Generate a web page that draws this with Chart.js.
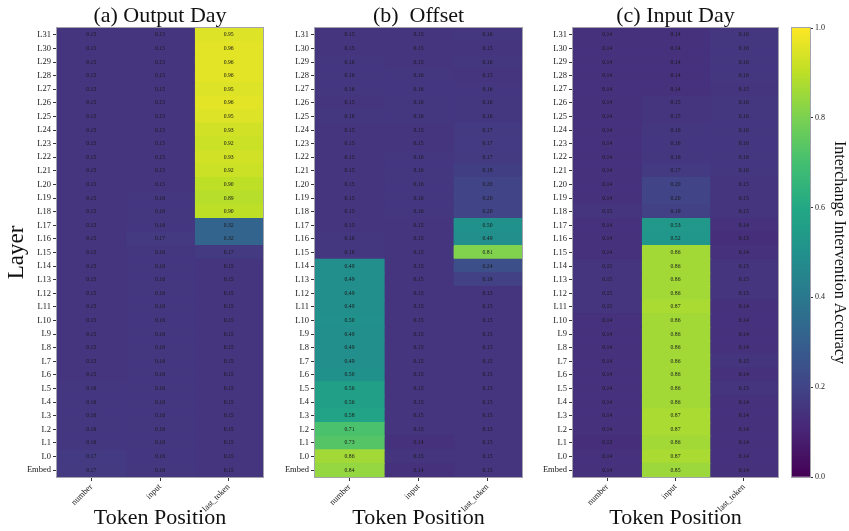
<!DOCTYPE html>
<html>
<head>
<meta charset="utf-8">
<script src="https://cdn.jsdelivr.net/npm/chart.js@4.4.0/dist/chart.umd.min.js"></script>
<style>
  html, body { margin: 0; padding: 0; background: #fff; }
  body { width: 849px; height: 531px; position: relative; overflow: hidden; }
  canvas { position: absolute; top: 0; }
</style>
</head>
<body>
<canvas id="panelA" width="270" height="531" style="left:0px"></canvas>
<canvas id="panelB" width="260" height="531" style="left:270px"></canvas>
<canvas id="panelC" width="255" height="531" style="left:530px"></canvas>
<canvas id="colorbar" width="64" height="531" style="left:785px"></canvas>
<script>
// rows, top to bottom
const layers = ['L31', 'L30', 'L29', 'L28', 'L27', 'L26', 'L25', 'L24', 'L23', 'L22',
  'L21', 'L20', 'L19', 'L18', 'L17', 'L16', 'L15', 'L14', 'L13', 'L12',
  'L11', 'L10', 'L9', 'L8', 'L7', 'L6', 'L5', 'L4', 'L3', 'L2',
  'L1', 'L0', 'Embed'];
const positions = ['number', 'input', 'last_token'];
const colorbarTicks = [0, 0.2, 0.4, 0.6, 0.8, 1.0];

// (a) Output Day
const outputDayNumber = [0.15, 0.15, 0.15, 0.15, 0.15, 0.15, 0.15, 0.15, 0.15, 0.15,
  0.15, 0.15, 0.15, 0.15, 0.15, 0.15, 0.15, 0.15, 0.15, 0.15,
  0.15, 0.15, 0.15, 0.15, 0.15, 0.15, 0.16, 0.16, 0.16, 0.16,
  0.16, 0.17, 0.17];
const outputDayInput = [0.15, 0.15, 0.15, 0.15, 0.15, 0.15, 0.15, 0.15, 0.15, 0.15,
  0.15, 0.15, 0.16, 0.16, 0.16, 0.17, 0.16, 0.16, 0.16, 0.16,
  0.16, 0.16, 0.16, 0.16, 0.16, 0.16, 0.16, 0.16, 0.16, 0.16,
  0.16, 0.16, 0.16];
const outputDayLast = [0.95, 0.96, 0.96, 0.96, 0.95, 0.96, 0.95, 0.93, 0.92, 0.93,
  0.92, 0.90, 0.89, 0.90, 0.32, 0.32, 0.17, 0.15, 0.15, 0.15,
  0.15, 0.15, 0.15, 0.15, 0.15, 0.15, 0.15, 0.15, 0.15, 0.15,
  0.15, 0.15, 0.15];

// (b) Offset
const offsetNumber = [0.15, 0.15, 0.16, 0.16, 0.16, 0.15, 0.16, 0.15, 0.15, 0.15,
  0.15, 0.15, 0.15, 0.15, 0.15, 0.16, 0.16, 0.49, 0.49, 0.49,
  0.49, 0.50, 0.49, 0.49, 0.49, 0.50, 0.56, 0.56, 0.58, 0.71,
  0.73, 0.86, 0.84];
const offsetInput = [0.15, 0.15, 0.15, 0.16, 0.16, 0.16, 0.16, 0.15, 0.15, 0.16,
  0.16, 0.16, 0.16, 0.16, 0.15, 0.15, 0.15, 0.15, 0.15, 0.15,
  0.15, 0.15, 0.15, 0.15, 0.15, 0.15, 0.15, 0.15, 0.15, 0.15,
  0.14, 0.15, 0.14];
const offsetLast = [0.16, 0.15, 0.16, 0.15, 0.16, 0.16, 0.16, 0.17, 0.17, 0.17,
  0.18, 0.20, 0.20, 0.20, 0.50, 0.49, 0.81, 0.24, 0.19, 0.15,
  0.15, 0.15, 0.15, 0.15, 0.15, 0.15, 0.15, 0.15, 0.15, 0.15,
  0.15, 0.15, 0.15];

// (c) Input Day
const inputDayNumber = [0.14, 0.14, 0.14, 0.14, 0.14, 0.14, 0.14, 0.14, 0.14, 0.14,
  0.14, 0.14, 0.14, 0.15, 0.14, 0.14, 0.14, 0.15, 0.15, 0.15,
  0.15, 0.14, 0.14, 0.14, 0.14, 0.14, 0.14, 0.14, 0.14, 0.14,
  0.13, 0.14, 0.14];
const inputDayInput = [0.14, 0.14, 0.14, 0.14, 0.14, 0.15, 0.15, 0.16, 0.16, 0.16,
  0.17, 0.20, 0.20, 0.19, 0.53, 0.52, 0.86, 0.86, 0.86, 0.86,
  0.87, 0.86, 0.86, 0.86, 0.86, 0.86, 0.86, 0.86, 0.87, 0.87,
  0.86, 0.87, 0.85];
const inputDayLast = [0.16, 0.16, 0.16, 0.16, 0.15, 0.16, 0.16, 0.16, 0.16, 0.16,
  0.16, 0.15, 0.15, 0.15, 0.14, 0.13, 0.14, 0.15, 0.15, 0.15,
  0.14, 0.14, 0.14, 0.14, 0.15, 0.14, 0.15, 0.14, 0.14, 0.14,
  0.14, 0.14, 0.14];

// viridis colormap, stops every 0.1
const viridisStops = ['#440154', '#482475', '#414487', '#355f8d', '#2a788e', '#21918c',
  '#22a884', '#44bf70', '#7ad151', '#bddf26', '#fde725'];

function hexToRgb(h) {
  return [parseInt(h.slice(1, 3), 16), parseInt(h.slice(3, 5), 16), parseInt(h.slice(5, 7), 16)];
}

function viridis(v) {
  const t = Math.max(0, Math.min(1, v)) * 10;
  const i = Math.min(9, Math.floor(t));
  const f = t - i;
  const a = hexToRgb(viridisStops[i]);
  const b = hexToRgb(viridisStops[i + 1]);
  const c = a.map((x, k) => Math.round(x + (b[k] - x) * f));
  return `rgb(${c[0]},${c[1]},${c[2]})`;
}

const SERIF = '"Liberation Serif", "Times New Roman", serif';
Chart.defaults.font.family = SERIF;
Chart.defaults.color = '#222';

// prints the value in the middle of each cell
const cellText = {
  id: 'cellText',
  afterDatasetsDraw(chart) {
    const ctx = chart.ctx;
    ctx.save();
    ctx.font = '5.7px ' + SERIF;
    ctx.fillStyle = '#1a1a1a';
    ctx.textAlign = 'center';
    ctx.textBaseline = 'middle';
    chart.data.datasets.forEach((ds, i) => {
      chart.getDatasetMeta(i).data.forEach((bar, j) => {
        const p = bar.getProps(['x', 'y', 'base'], true);
        ctx.fillText(ds.values[j].toFixed(2), (p.x + p.base) / 2, p.y);
      });
    });
    ctx.restore();
  }
};

// thin box round the plot area
const frame = {
  id: 'frame',
  afterDraw(chart) {
    const { ctx, chartArea: a } = chart;
    ctx.save();
    ctx.strokeStyle = '#a3a3ad';
    ctx.lineWidth = 1;
    ctx.strokeRect(Math.round(a.left) - 0.5, Math.round(a.top) - 0.5,
      Math.round(a.right - a.left) + 1, Math.round(a.bottom - a.top) + 1);
    ctx.restore();
  }
};

function makePanel(id, title, cols, yWidth, rightPad, yTitle) {
  new Chart(document.getElementById(id), {
    type: 'bar',
    data: {
      labels: layers,
      datasets: cols.map((vals, c) => ({
        label: positions[c],
        data: vals.map(() => [c, c + 1]),
        values: vals,
        backgroundColor: vals.map(viridis),
        borderWidth: 0,
        grouped: false,
        barPercentage: 1,
        categoryPercentage: 1,
        inflateAmount: 0.6
      }))
    },
    options: {
      indexAxis: 'y',
      responsive: false,
      animation: false,
      events: [],
      layout: { padding: { left: 0, right: rightPad, top: 0, bottom: 0 } },
      plugins: {
        legend: { display: false },
        tooltip: { enabled: false },
        title: {
          display: true,
          text: title,
          fullSize: false,
          color: '#111',
          font: { size: 22, weight: 'normal', lineHeight: 1 },
          padding: { top: 5, bottom: 1 }
        }
      },
      scales: {
        x: {
          type: 'linear',
          min: 0,
          max: 3,
          afterBuildTicks: s => { s.ticks = positions.map((p, i) => ({ value: i + 0.5 })); },
          afterFit: s => { s.height = 54; },
          ticks: {
            callback: v => positions[Math.floor(v)],
            minRotation: 45,
            maxRotation: 45,
            padding: 1,
            font: { size: 8.5 }
          },
          grid: { drawOnChartArea: false, tickLength: 4, color: '#333' },
          border: { display: false },
          title: {
            display: true,
            text: 'Token Position',
            color: '#111',
            font: { size: 22 },
            padding: { top: 0, bottom: 0 }
          }
        },
        y: {
          afterFit: s => { s.width = yWidth; },
          ticks: { autoSkip: false, padding: 2, font: { size: 8.5 } },
          grid: { offset: false, drawOnChartArea: false, tickLength: 4, color: '#333' },
          border: { display: false },
          title: {
            display: !!yTitle,
            text: yTitle || '',
            color: '#111',
            font: { size: 23 },
            padding: { top: 3, bottom: 0 }
          }
        }
      }
    },
    plugins: [cellText, frame]
  });
}

makePanel('panelA', '(a) Output Day', [outputDayNumber, outputDayInput, outputDayLast], 57, 7, 'Layer');
makePanel('panelB', '(b)  Offset', [offsetNumber, offsetInput, offsetLast], 45, 8, null);
makePanel('panelC', '(c) Input Day', [inputDayNumber, inputDayInput, inputDayLast], 43, 7, null);

// colour scale
new Chart(document.getElementById('colorbar'), {
  type: 'bar',
  data: {
    labels: [''],
    datasets: [{
      data: [[0, 1]],
      backgroundColor: context => {
        const { ctx, chartArea } = context.chart;
        if (!chartArea) return viridis(0.5);
        const g = ctx.createLinearGradient(0, chartArea.bottom, 0, chartArea.top);
        viridisStops.forEach((hex, i) => g.addColorStop(i / 10, hex));
        return g;
      },
      borderWidth: 0,
      barPercentage: 1,
      categoryPercentage: 1
    }]
  },
  options: {
    responsive: false,
    animation: false,
    events: [],
    layout: { padding: { left: 7, top: 28, bottom: 54, right: 0 } },
    plugins: { legend: { display: false }, tooltip: { enabled: false } },
    scales: {
      x: { display: false },
      y: {
        position: 'right',
        min: 0,
        max: 1,
        afterBuildTicks: s => { s.ticks = colorbarTicks.map(v => ({ value: v })); },
        afterFit: s => { s.width = 39; },
        ticks: { callback: v => v.toFixed(1), padding: 2, font: { size: 8 } },
        grid: { drawOnChartArea: false, tickLength: 3, color: '#333' },
        border: { display: false },
        title: {
          display: true,
          text: 'Interchange Intervention Accuracy',
          color: '#111',
          font: { size: 16 },
          padding: { top: 0, bottom: 0 }
        }
      }
    }
  },
  plugins: [frame]
});
</script>
</body>
</html>
